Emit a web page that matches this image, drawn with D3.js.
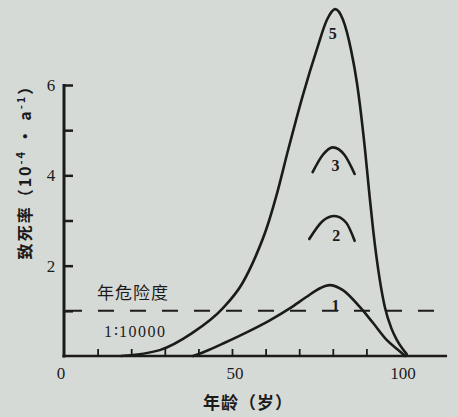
<!DOCTYPE html>
<html>
<head>
<meta charset="utf-8">
<script src="https://cdn.jsdelivr.net/npm/d3@7"></script>
<style>
  html, body { margin: 0; padding: 0; background: #d6dad6; }
  svg { display: block; }
</style>
</head>
<body>
<div id="chart"></div>
<script>
// curves: [age (years), fatality rate (1e-4 per year)]
var curve5 = [[17, 0], [28.5, 0.13], [38, 0.5], [47.3, 1.06], [53, 1.6], [57, 2.2],
              [60.4, 2.85], [63.4, 3.6], [66.7, 4.56], [71, 5.75], [75.3, 6.8], [78.3, 7.45],
              [80.7, 7.68], [83, 7.45], [85.5, 6.75], [87.2, 6.04], [89.6, 4.56], [91, 3.5],
              [92, 2.8], [94, 1.68], [95.5, 1.08], [97.5, 0.6], [99.1, 0.35], [102, 0.04]];
var curve1 = [[38.4, 0], [42, 0.1], [48, 0.3], [54.5, 0.53], [61, 0.78], [67.3, 1.06],
              [72, 1.3], [76.2, 1.5], [79, 1.57], [83, 1.46], [88.1, 1.08], [92, 0.73],
              [96.1, 0.35], [100, 0.1], [101.5, 0]];
var curve2 = [[73, 2.59], [77, 2.99], [80.5, 3.1], [84, 2.95], [86.5, 2.55]];
var curve3 = [[74, 4.07], [77, 4.45], [80, 4.62], [83.5, 4.45], [86.5, 4.03]];

var curveNames = ['5', '3', '2', '1'];
var curveLabelAt = [[80, 7.15], [80.8, 4.22], [81, 2.68], [80.8, 1.12]];

var riskLevel = 1;          // 1:10000 per year
var xTickLabels = [0, 50, 100];
var yTickLabels = [2, 4, 6];
var xMinorTicks = [10, 20, 30, 40, 50, 60, 70, 80, 90];
var yMinorTicks = [1, 2, 3, 4, 5, 6];

var W = 458, H = 417;
var ink = '#1b1b1b';

var svg = d3.select('#chart').append('svg')
    .attr('width', W)
    .attr('height', H);

var x = d3.scaleLinear().domain([0, 100]).range([64, 400]);
var y = d3.scaleLinear().domain([0, 6]).range([356, 85]);

// axes
var yAxis = d3.axisRight(y)
    .tickValues(yMinorTicks)
    .tickSize(9)
    .tickSizeOuter(0)
    .tickFormat('');

var xAxis = d3.axisTop(x)
    .tickValues(xMinorTicks)
    .tickSize(7)
    .tickSizeOuter(0)
    .tickFormat('');

var gy = svg.append('g')
    .attr('transform', 'translate(' + x(0) + ',0)')
    .call(yAxis);
gy.select('.domain').remove();
gy.selectAll('line').style('stroke', ink).style('stroke-width', 2.5);

var gx = svg.append('g')
    .attr('transform', 'translate(0,' + y(0) + ')')
    .call(xAxis);
gx.select('.domain').remove();
gx.selectAll('line').style('stroke', ink).style('stroke-width', 1.8);

svg.append('line')
    .attr('x1', x(0)).attr('x2', x(0))
    .attr('y1', y(0) + 1.5).attr('y2', y(6) - 1)
    .style('stroke', ink).style('stroke-width', 3);

svg.append('line')
    .attr('x1', x(0) - 1.5).attr('x2', x(114))
    .attr('y1', y(0)).attr('y2', y(0))
    .style('stroke', ink).style('stroke-width', 2.5);

// tick labels
svg.selectAll('.ylab')
    .data(yTickLabels)
    .join('text')
    .attr('class', 'ylab')
    .attr('x', x(0) - 13)
    .attr('y', function (d) { return y(d) + 6; })
    .attr('text-anchor', 'middle')
    .style('font-family', '"Liberation Serif", serif')
    .style('font-size', '17px')
    .style('fill', ink)
    .text(function (d) { return d; });

svg.selectAll('.xlab')
    .data(xTickLabels)
    .join('text')
    .attr('class', 'xlab')
    .attr('x', function (d) { return d === 0 ? x(d) - 3 : x(d) + 3; })
    .attr('y', 379)
    .attr('text-anchor', 'middle')
    .style('font-family', '"Liberation Serif", serif')
    .style('font-size', '17px')
    .style('fill', ink)
    .text(function (d) { return d; });

// risk line
svg.append('line')
    .attr('x1', x(0) + 2).attr('x2', x(112))
    .attr('y1', y(riskLevel)).attr('y2', y(riskLevel))
    .style('stroke', ink)
    .style('stroke-width', 2)
    .style('stroke-dasharray', '16,16');

svg.append('text')
    .attr('x', 97).attr('y', 299)
    .style('font-family', '"Noto Sans CJK SC", sans-serif')
    .style('font-size', '17px')
    .style('letter-spacing', '1px')
    .style('fill', ink)
    .text('年危险度');

svg.append('text')
    .attr('x', 104).attr('y', 337)
    .style('font-family', '"Liberation Serif", serif')
    .style('font-size', '16px')
    .style('letter-spacing', '1.5px')
    .style('fill', ink)
    .text('1∶10000');

// curves
var line = d3.line()
    .x(function (d) { return x(d[0]); })
    .y(function (d) { return y(d[1]); })
    .curve(d3.curveMonotoneX);

svg.selectAll('.curve')
    .data([curve5, curve3, curve2, curve1])
    .join('path')
    .attr('class', 'curve')
    .attr('d', line)
    .style('fill', 'none')
    .style('stroke', ink)
    .style('stroke-width', 2.6)
    .style('stroke-linecap', 'round');

svg.selectAll('.clab')
    .data(curveNames)
    .join('text')
    .attr('class', 'clab')
    .attr('x', function (d, i) { return x(curveLabelAt[i][0]); })
    .attr('y', function (d, i) { return y(curveLabelAt[i][1]) + 6; })
    .attr('text-anchor', 'middle')
    .style('font-family', '"Liberation Serif", serif')
    .style('font-size', '16px')
    .style('font-weight', 'bold')
    .style('fill', ink)
    .text(function (d) { return d; });

// axis titles
svg.append('text')
    .attr('x', 248).attr('y', 409)
    .attr('text-anchor', 'middle')
    .style('font-family', '"Noto Sans CJK SC", sans-serif')
    .style('font-size', '17px')
    .style('font-weight', 'bold')
    .style('letter-spacing', '1px')
    .style('fill', ink)
    .text('年龄（岁）');

var yt = svg.append('text')
    .attr('transform', 'translate(31,168) rotate(-90)')
    .attr('text-anchor', 'middle')
    .style('font-family', '"Noto Sans CJK SC", sans-serif')
    .style('font-size', '16px')
    .style('font-weight', 'bold')
    .style('letter-spacing', '2px')
    .style('fill', ink);
yt.append('tspan').text('致死率（10');
yt.append('tspan').attr('dy', -6).style('font-size', '11px').text('-4');
yt.append('tspan').attr('dy', 6).text(' · a');
yt.append('tspan').attr('dy', -6).style('font-size', '11px').text('-1');
yt.append('tspan').attr('dy', 6).text('）');
</script>
</body>
</html>
